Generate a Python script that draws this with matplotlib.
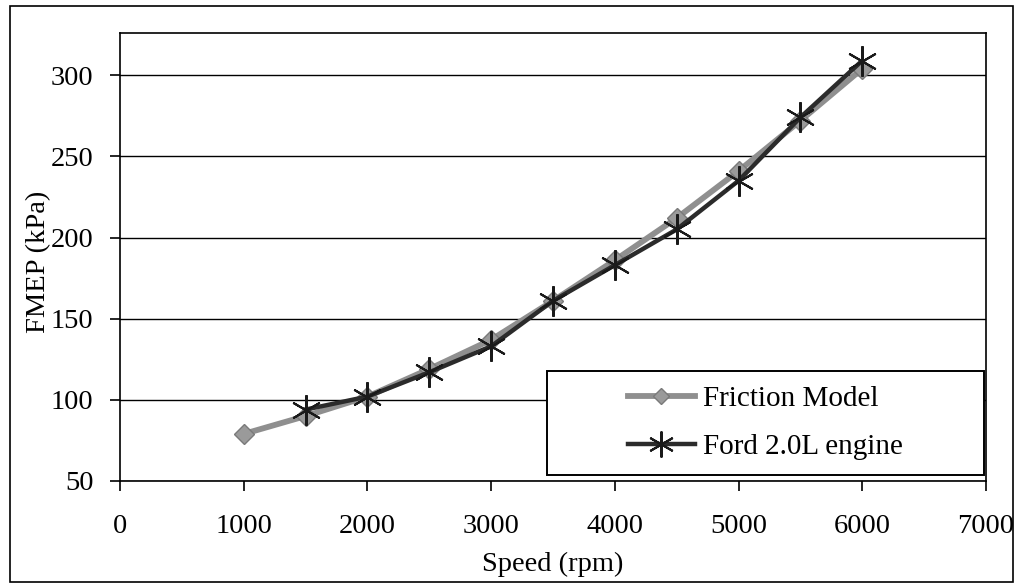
import matplotlib
matplotlib.use("Agg")
import matplotlib.pyplot as plt
from matplotlib.patches import Rectangle

# Engine speed (rpm) and friction mean effective pressure (kPa)
speed_model = [1000, 1500, 2000, 2500, 3000, 3500, 4000, 4500, 5000, 5500, 6000]
fmep_model = [79, 90, 102, 119, 137, 161, 186, 212, 241, 272, 304]

speed_engine = [1500, 2000, 2500, 3000, 3500, 4000, 4500, 5000, 5500, 6000]
fmep_engine = [94, 102, 117, 133, 161, 183, 205, 235, 274, 309]

x_ticks = [0, 1000, 2000, 3000, 4000, 5000, 6000, 7000]
y_ticks = [50, 100, 150, 200, 250, 300]

plt.rcParams["font.family"] = ["Liberation Serif", "DejaVu Serif"]
FS = 20.5

W, H = 1018, 588
fig = plt.figure(figsize=(W / 100, H / 100), dpi=100)
fig.patch.set_facecolor("white")

left, right, top, bottom = 120, 986, 33, 481
ax = fig.add_axes([left / W, 1 - bottom / H, (right - left) / W, (bottom - top) / H])

# outer chart frame
fig.add_artist(Rectangle((10 / W, 6 / H), 1003 / W, 576 / H, transform=fig.transFigure,
                         fill=False, edgecolor="black", linewidth=1.2))

ax.plot(speed_model, fmep_model, color="#8f8f8f", linewidth=4.2, marker="D",
        markersize=10, markerfacecolor="#9a9a9a", markeredgecolor="#7a7a7a",
        label="Friction Model", zorder=3)
ax.plot(speed_engine, fmep_engine, color="#2b2b2b", linewidth=3.2, marker=(6, 2, 0),
        markersize=22, markeredgewidth=1.5, markeredgecolor="#1a1a1a",
        label="Ford 2.0L engine", zorder=4)

ax.set_xlim(0, 7000)
ax.set_ylim(50, 326)
ax.set_xticks(x_ticks)
ax.set_yticks(y_ticks)
ax.yaxis.grid(True, color="black", linewidth=1.0)
ax.set_axisbelow(True)
for s in ax.spines.values():
    s.set_linewidth(1.2)
    s.set_color("black")

ax.tick_params(axis="both", labelsize=FS, direction="out", length=7, width=1.2, color="black")
ax.tick_params(axis="y", pad=12)
ax.tick_params(axis="x", pad=17)

ax.set_xlabel("Speed (rpm)", fontsize=FS, labelpad=9)
ax.set_ylabel("FMEP (kPa)", fontsize=FS, va="center")
ax.yaxis.set_label_coords(-0.094, 0.49)

# legend box sitting in the lower-right corner of the plot area
lx0, lx1, ly0, ly1 = 547, 984, 371, 475
box_ax = ((lx0 - left) / (right - left), (bottom - ly1) / (bottom - top),
          (lx1 - lx0) / (right - left), (ly1 - ly0) / (bottom - top))
ax.add_patch(Rectangle(box_ax[:2], box_ax[2], box_ax[3], transform=ax.transAxes,
                       facecolor="white", edgecolor="black", linewidth=1.4, zorder=5))
leg = ax.legend(loc="center", bbox_to_anchor=(box_ax[0] + box_ax[2] / 2, box_ax[1] + box_ax[3] / 2),
                frameon=False, fontsize=21, handlelength=2.3, handletextpad=0.3,
                labelspacing=0.75, markerscale=0.85)
leg.set_zorder(6)

fig.savefig("out.png", dpi=100, facecolor="white")
